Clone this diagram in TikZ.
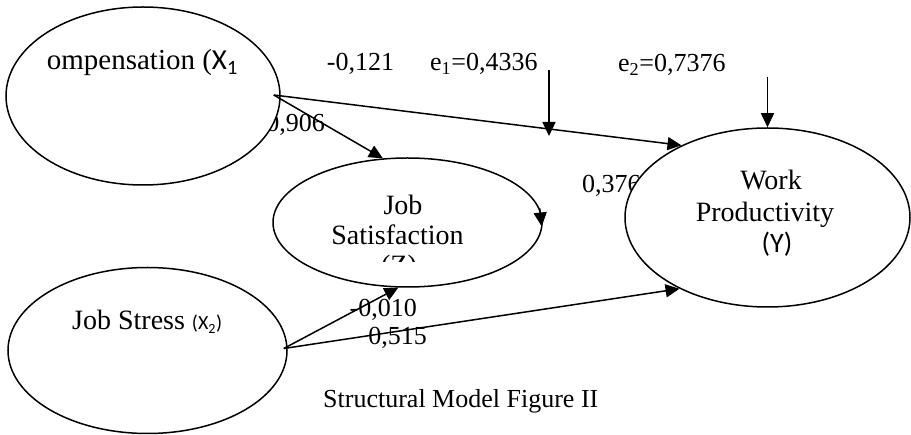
\documentclass[tikz,border=0pt]{standalone}
\usepackage{fontspec}
\setmainfont{Liberation Serif}
\newfontfamily\sansf{Carlito}
\usetikzlibrary{arrows.meta,shapes.geometric}

\begin{document}
\begin{tikzpicture}[x=1pt,y=-1pt,
  construct/.style={draw, ellipse, line width=1.5pt, fill=white, inner sep=0pt},
  link/.style={line width=1.5pt, -{Triangle[length=14pt,width=13pt]}},
  coef/.style={inner sep=0pt, font=\fontsize{26}{30}\selectfont},
  vlabel/.style={inner sep=0pt, font=\fontsize{28}{32}\selectfont},
]
\useasboundingbox (0,0) rectangle (911,435);

% coefficients partly hidden behind the constructs
\node[coef, anchor=base east] (c906) at (325,132) {0,906};
\node[coef, anchor=base west] (c376) at (582,193) {0,376};

% latent constructs
\node[construct, minimum width=274pt, minimum height=178pt] (X1) at (143,96) {};
\node[construct, minimum width=269pt, minimum height=129pt] (Z) at (407.5,222.5) {};
\node[construct, minimum width=285pt, minimum height=179pt] (Y) at (767.5,217.5) {};
\node[construct, minimum width=279pt, minimum height=166pt] (X2) at (147.5,350.5) {};

% construct names
\begin{scope}
  \clip (46,20) rectangle (260,90);
  \node[vlabel, font=\fontsize{29}{33}\selectfont, anchor=base east] (x1name) at (238,70) {Compensation ({\sansf X\textsubscript{1}}};
\end{scope}
\node[vlabel, anchor=base] (zname1) at (403,215) {Job};
\node[vlabel, anchor=base] (zname2) at (397.5,245) {Satisfaction};
\begin{scope}
  \clip (300,248) rectangle (500,262);
  \node[vlabel, anchor=base] (zname3) at (399,275) {(Z)};
\end{scope}
\node[vlabel, anchor=base] (yname1) at (771,190) {Work};
\node[vlabel, anchor=base] (yname2) at (765,222) {Productivity};
\node[vlabel, anchor=base] (yname3) at (777,253) {\sansf (Y)};
\node[vlabel, anchor=base west] (x2name) at (72,330) {Job Stress {\sansf\fontsize{20}{24}\selectfont (X\textsubscript{2})}};

% path coefficients and error terms
\node[coef, anchor=base] (c121) at (360.5,71) {-0,121};
\node[coef, anchor=base west] (err1) at (430,71) {e\textsubscript{1}=0,4336};
\node[coef, anchor=base west] (err2) at (618,72) {e\textsubscript{2}=0,7376};
\node[coef, anchor=base east] (c010) at (417,317) {-0,010};
\node[coef, anchor=base east] (c515) at (427,345) {0,515};

\node[inner sep=0pt, font=\fontsize{26}{30}\selectfont, anchor=base west] (caption) at (323,408) {Structural Model Figure II};

% error arrows
\coordinate (e1src) at (549,70);
\coordinate (e1tip) at (549,136);
\coordinate (e2src) at (767.5,77);

% structural paths
\draw[link] ([xshift=-7pt,yshift=1pt]X1.east) -- (Y.140);
\draw[link] ([xshift=-7pt,yshift=1pt]X1.east) -- (Z.111);
\draw[link] ([xshift=-4pt,yshift=2pt]X2.east) -- (Z.262);
\draw[link] ([xshift=-4pt,yshift=2pt]X2.east) -- (Y.219);
\draw[link] (e1src) -- (e1tip);
\draw[link] (e2src) -- (Y.north);
\draw[link] ([xshift=-3pt,yshift=14pt]Z.east) -- ([xshift=-1pt,yshift=-4pt]Z.east);
\end{tikzpicture}
\end{document}
